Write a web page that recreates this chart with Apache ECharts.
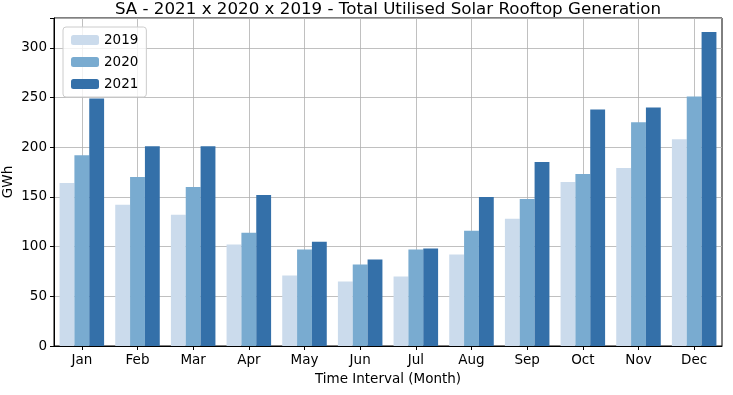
<!DOCTYPE html>
<html>
<head>
<meta charset="utf-8">
<script src="https://cdn.jsdelivr.net/npm/echarts@6/dist/echarts.min.js"></script>
<style>html,body{margin:0;padding:0;background:#fff}#c{width:733px;height:395px}</style>
</head>
<body>
<div id="c"></div>
<script>
var months = ['Jan','Feb','Mar','Apr','May','Jun','Jul','Aug','Sep','Oct','Nov','Dec'];
var y2019 = [164, 142, 132, 102, 71, 65, 70, 92, 128, 165, 179, 208];
var y2020 = [192, 170, 160, 114, 97, 82, 97, 116, 148, 173, 225, 251];
var y2021 = [249, 201, 201, 152, 105, 87, 98, 150, 185, 238, 240, 316];
var yTicks = [0, 50, 100, 150, 200, 250, 300];

var FONT = 'DejaVu Sans';
var chart = echarts.init(document.getElementById('c'), null, {renderer: 'canvas'});
var barBase = {type: 'bar', barGap: '0%', barCategoryGap: '20%', z: 3};
chart.setOption({
  animation: false,
  textStyle: {fontFamily: FONT},
  title: {
    text: 'SA - 2021 x 2020 x 2019 - Total Utilised Solar Rooftop Generation',
    left: 388, top: 1, padding: 0, textAlign: 'center',
    textStyle: {fontFamily: FONT, fontSize: 16.7, fontWeight: 'normal', color: '#000'}
  },
  legend: {
    orient: 'vertical', left: 63, top: 27,
    itemWidth: 28, itemHeight: 10, itemGap: 8,
    padding: [6, 8, 6, 8],
    borderColor: '#ccc', borderWidth: 1, borderRadius: 3,
    backgroundColor: 'rgba(255,255,255,0.8)',
    textStyle: {fontFamily: FONT, fontSize: 13.5, color: '#000'},
    data: ['2019', '2020', '2021']
  },
  grid: {left: 54, right: 11, top: 18, bottom: 49, containLabel: false, outerBoundsMode: 'none',
    show: true, borderColor: '#000', borderWidth: 1, backgroundColor: 'transparent'},
  xAxis: {
    type: 'category', data: months,
    name: 'Time Interval (Month)', nameLocation: 'middle', nameGap: 26, nameMoveOverlap: false,
    nameTextStyle: {fontFamily: FONT, fontSize: 13.5, color: '#000'},
    axisLine: {show: true, lineStyle: {color: '#000', width: 1}},
    axisTick: {show: true, alignWithLabel: true, length: 4, inside: false, lineStyle: {color: '#000'}},
    axisLabel: {fontFamily: FONT, fontSize: 13.5, color: '#000', margin: 7},
    splitLine: {show: false}
  },
  yAxis: {
    type: 'value', min: 0, max: 330, interval: 50,
    name: 'GWh', nameLocation: 'middle', nameGap: 39, nameMoveOverlap: false,
    nameTextStyle: {fontFamily: FONT, fontSize: 13.5, color: '#000'},
    axisLine: {show: true, lineStyle: {color: '#000', width: 1}},
    axisTick: {show: true, length: 4, lineStyle: {color: '#000'}},
    axisLabel: {fontFamily: FONT, fontSize: 13.5, color: '#000', margin: 7,
      formatter: function (v) { return yTicks.indexOf(v) >= 0 ? String(v) : ''; }},
    splitLine: {show: true, lineStyle: {color: '#b0b0b0', width: 0.8}}
  },
  series: [
    {type: 'line', data: [], z: 1, silent: true,
      markLine: {silent: true, z: 1, symbol: 'none', label: {show: false},
        lineStyle: {color: '#b0b0b0', width: 0.8, type: 'solid'},
        data: months.map(function (m) { return {xAxis: m}; })}},
    Object.assign({name: '2019', data: y2019, itemStyle: {color: '#cbdbec'}}, barBase),
    Object.assign({name: '2020', data: y2020, itemStyle: {color: '#79abd0'}}, barBase),
    Object.assign({name: '2021', data: y2021, itemStyle: {color: '#3470a9'}}, barBase)
  ]
});
</script>
</body>
</html>
